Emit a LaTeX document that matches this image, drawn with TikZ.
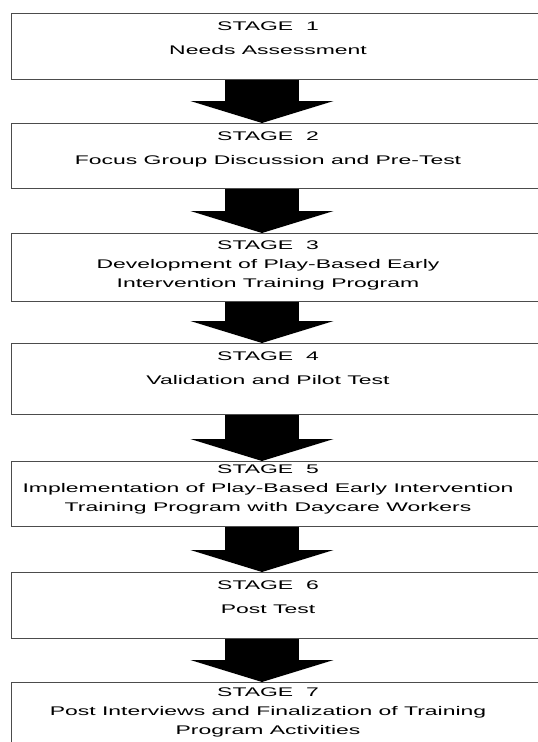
\documentclass[tikz,border=0pt]{standalone}
\usepackage{fontspec}
\setmainfont[FakeStretch=1.83]{Liberation Sans}
\usetikzlibrary{arrows.meta,positioning}

\tikzset{
  stagebox/.style={draw=black!70, line width=0.6pt, rectangle, anchor=north west,
    minimum width=411.75pt, inner sep=0pt},
  stagetext/.style={anchor=north, align=center, inner sep=0pt,
    font=\fontsize{9.4}{14.5}\selectfont},
  stagearrow/.style={line width=55.5pt, -{Triangle[length=16.5pt,width=107pt]}}
}

\begin{document}
\begin{tikzpicture}[x=0.75pt,y=-0.75pt]
  \useasboundingbox (0,0) rectangle (537,742);
  \coordinate (axis) at (262,0);
  % boxes
  \node[stagebox, minimum height=49.5pt] (s1) at (11,13) {};
  \node[stagebox, minimum height=48.75pt] (s2) at (11,123) {};
  \node[stagebox, minimum height=51pt] (s3) at (11,233) {};
  \node[stagebox, minimum height=53.25pt] (s4) at (11,343) {};
  \node[stagebox, minimum height=48.75pt] (s5) at (11,461) {};
  \node[stagebox, minimum height=49.5pt] (s6) at (11,572) {};
  \node[stagebox, minimum height=60pt] (s7) at (11,682) {};
  % texts
  \node[stagetext] (t1) at (268,21) {STAGE\ \ 1\\[4pt]Needs Assessment};
  \node[stagetext] (t2) at (268,131) {STAGE\ \ 2\\[4pt]Focus Group Discussion and Pre-Test};
  \node[stagetext] (t3) at (268,240) {STAGE\ \ 3\\Development of Play-Based Early\\Intervention Training Program};
  \node[stagetext] (t4) at (268,351) {STAGE\ \ 4\\[4pt]Validation and Pilot Test};
  \node[stagetext] (t5) at (268,464) {STAGE\ \ 5\\Implementation of Play-Based Early Intervention\\Training Program with Daycare Workers};
  \node[stagetext] (t6) at (268,580) {STAGE\ \ 6\\[4pt]Post Test};
  \node[stagetext] (t7) at (268,687) {STAGE\ \ 7\\Post Interviews and Finalization of Training\\Program Activities};
  % arrows
  \foreach \a/\b in {s1/s2,s2/s3,s3/s4,s4/s5,s5/s6,s6/s7}
    \draw[stagearrow] (\a.south -| axis) -- (\b.north -| axis);
\end{tikzpicture}
\end{document}
